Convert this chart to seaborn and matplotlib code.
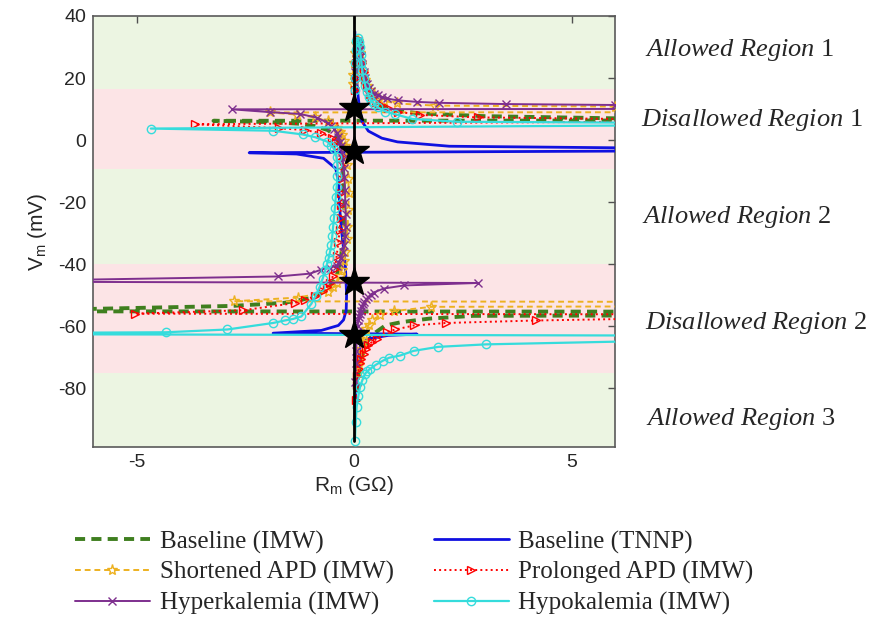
import numpy as np
import matplotlib
matplotlib.use('Agg')
import matplotlib.pyplot as plt
import seaborn as sns

sns.set_style('white')
plt.rcParams['font.family'] = ['Liberation Sans', 'DejaVu Sans']
plt.rcParams['mathtext.fontset'] = 'custom'
plt.rcParams['mathtext.rm'] = 'Liberation Sans'
plt.rcParams['mathtext.it'] = 'Liberation Serif:italic'
plt.rcParams['axes.unicode_minus'] = False

# background bands (mV)
band_edges = [-99, -75, -40, -9.5, 16.6, 40]
band_allowed = [True, False, True, False, True]

# curves as (R_m in GOhm, V_m in mV), in drawing order
base_imw_pts = [
    (0.02, 16), (0.04, 25), (0.07, 31), (0.11, 31), (0.15, 26), (0.20, 21), (0.28, 17),
    (0.40, 13.5), (0.60, 11), (0.90, 9.6), (1.5, 8.6), (3.0, 7.7), (6.0, 7.0), (40.0, 6.6),
    (-3.23, 6.2), (-2.0, 5.8), (-1.3, 5.3), (-0.9, 4.5), (-0.6, 3.2), (-0.4, 1.0), (-0.3, -3),
    (-0.25, -10), (-0.22, -20), (-0.24, -30), (-0.3, -38), (-0.4, -44), (-0.6, -48),
    (-1.0, -51), (-1.6, -52.5), (-2.8, -53.5), (-6.5, -54.6), (-40.0, -55.0), (40.0, -55.6),
    (2.74, -56.7), (1.73, -57.6), (1.1, -58.7), (0.72, -59.8), (0.5, -62), (0.3, -65),
    (0.18, -70), (0.1, -76), (0.06, -82)]

base_tnnp_pts = [
    (0.02, 35), (0.03, 28), (0.05, 22), (0.08, 16), (0.12, 11), (0.18, 6.1), (0.33, 2.9),
    (0.64, 0.6), (1.0, -0.6), (2.19, -2.0), (6.0, -2.5), (20.0, -2.7),
    (-2.41, -4.1), (-1.32, -4.5), (-0.70, -5.9), (-0.42, -9.2), (-0.35, -14), (-0.33, -22),
    (-0.28, -30), (-0.2, -40), (-0.17, -50), (-0.18, -55), (-0.24, -58), (-0.36, -59.8),
    (-0.75, -61.4), (-1.86, -62.3), (1.45, -62.6), (0.79, -63.0), (0.33, -64.1),
    (0.22, -65.2), (0.14, -66.8), (0.08, -72), (0.04, -80), (0.02, -90)]

short_pts = [
    (-0.03, 18), (-0.02, 21), (0.0, 25), (0.02, 28), (0.04, 31), (0.06, 32), (0.09, 32),
    (0.11, 30), (0.14, 28), (0.17, 25), (0.20, 22), (0.25, 19.5), (0.30, 17.5), (0.37, 16),
    (0.45, 14.5), (0.55, 13.5), (0.70, 12.6), (0.98, 11.8), (1.87, 11.1), (6.0, 10.8),
    (40.0, 9.2),
    (-1.94, 8.9), (-1.3, 8.2), (-0.9, 7.3), (-0.6, 6.0), (-0.5, 5.0), (-0.4, 4.0),
    (-0.33, 2.7), (-0.28, 1.5), (-0.24, -0.2), (-0.2, -2), (-0.17, -5), (-0.15, -8),
    (-0.13, -12.5), (-0.12, -17), (-0.13, -22.5), (-0.15, -28), (-0.17, -32), (-0.2, -36),
    (-0.24, -39), (-0.28, -42), (-0.33, -44), (-0.4, -46), (-0.48, -47.5), (-0.59, -49),
    (-1.29, -50.8), (-2.76, -52.0), (40.0, -52.8),
    (1.77, -53.8), (0.91, -55.2), (0.6, -56.5), (0.41, -58.2), (0.34, -59.5), (0.28, -61),
    (0.24, -63), (0.20, -65), (0.17, -67.5), (0.14, -70), (0.12, -72.5), (0.10, -75)]

prol_pts = [
    (0.03, 16), (0.04, 20), (0.05, 25), (0.065, 29), (0.08, 32), (0.10, 32.5), (0.12, 32),
    (0.14, 30), (0.16, 28), (0.19, 25), (0.22, 22), (0.26, 19.5), (0.30, 17), (0.36, 15),
    (0.42, 13.5), (0.50, 12.4), (0.58, 11.5), (0.78, 10.2), (1.02, 9.1), (1.52, 8.1),
    (2.84, 7.3), (10.0, 6.2),
    (-3.65, 5.1), (-1.72, 3.8), (-1.12, 3.2), (-0.75, 2.2), (-0.50, 0.8), (-0.42, -0.6),
    (-0.36, -2), (-0.33, -5), (-0.30, -8), (-0.29, -12.5), (-0.29, -17), (-0.30, -21),
    (-0.31, -25), (-0.33, -29), (-0.36, -33), (-0.40, -37.5), (-0.44, -41.7), (-0.49, -44),
    (-0.55, -46), (-0.63, -47.5), (-0.72, -48.8), (-0.90, -50.4), (-1.13, -51.5),
    (-1.36, -52.6), (-2.56, -54.9), (-5.03, -56.0), (12.0, -56.3),
    (4.19, -58.2), (2.11, -59.0), (1.38, -59.8), (0.95, -61.1), (0.76, -61.9), (0.53, -64.1),
    (0.42, -65), (0.33, -66.2), (0.27, -67.5), (0.22, -69), (0.17, -70.5), (0.14, -72),
    (0.11, -74), (0.08, -76), (0.06, -79), (0.04, -84)]

hyper_pts = [
    (0.02, 18), (0.03, 22), (0.04, 26), (0.06, 29.5), (0.08, 32), (0.10, 31.5), (0.12, 31),
    (0.14, 29), (0.16, 27), (0.19, 24.5), (0.22, 22), (0.26, 20), (0.30, 18), (0.35, 16.8),
    (0.40, 15.8), (0.47, 15), (0.55, 14.4), (0.65, 13.8), (0.75, 13.4), (1.00, 12.8),
    (1.45, 12.3), (1.95, 12.0), (3.5, 11.6), (6.0, 11.3), (40.0, 10.5),
    (-2.80, 9.9), (-1.94, 9.0), (-1.24, 8.4), (-0.85, 7.2), (-0.60, 5.5), (-0.52, 4.5),
    (-0.45, 3.5), (-0.40, 2.2), (-0.36, 1.0), (-0.32, -0.5), (-0.30, -2), (-0.28, -4),
    (-0.26, -6), (-0.24, -9), (-0.22, -12), (-0.21, -16), (-0.20, -20), (-0.19, -24),
    (-0.19, -28), (-0.20, -31), (-0.22, -34), (-0.25, -36), (-0.30, -38), (-0.35, -39.5),
    (-0.40, -40.5), (-0.55, -41.2), (-0.75, -41.8), (-1.02, -43.1), (-1.75, -44.0),
    (-6.5, -45.1), (-40.0, -44.5),
    (2.85, -46.1), (1.15, -46.9), (0.68, -47.9), (0.45, -49.2), (0.38, -49.9), (0.33, -50.6),
    (0.28, -51.4), (0.24, -52.2), (0.21, -53), (0.18, -53.8), (0.15, -55), (0.13, -56),
    (0.115, -57), (0.10, -58), (0.085, -60), (0.07, -62), (0.06, -65), (0.05, -68),
    (0.04, -72), (0.03, -78)]

hypo_pts = [
    (0.02, 16), (0.025, 20), (0.03, 25), (0.04, 29), (0.05, 32), (0.09, 33), (0.11, 31.5),
    (0.13, 30), (0.15, 27.5), (0.17, 25), (0.19, 22.5), (0.22, 20), (0.26, 17.5), (0.30, 15.5),
    (0.35, 14), (0.40, 12.5), (0.47, 11.5), (0.55, 10.5), (0.72, 9.2), (0.95, 8.3),
    (1.34, 6.8), (2.37, 5.9), (12.0, 5.2),
    (-4.67, 3.7), (-1.86, 3.0), (-1.18, 1.8), (-0.89, 0.9), (-0.62, -0.5), (-0.52, -1.8),
    (-0.45, -3), (-0.40, -5.5), (-0.38, -8), (-0.38, -11.5), (-0.40, -15), (-0.42, -18.5),
    (-0.44, -22), (-0.46, -25), (-0.48, -28), (-0.50, -31), (-0.52, -34), (-0.55, -36),
    (-0.58, -38), (-0.62, -40), (-0.66, -42), (-0.72, -44.7), (-0.79, -47.4), (-0.88, -50.2),
    (-0.98, -52.8), (-1.21, -56.9), (-1.40, -57.7), (-1.59, -58.2), (-1.86, -59.0),
    (-2.91, -61.1), (-4.32, -62.0), (-12.0, -62.5), (12.0, -63.2),
    (6.12, -65.0), (3.03, -65.9), (1.94, -66.7), (1.37, -68.0), (1.06, -69.5), (0.81, -70.2),
    (0.66, -71.2), (0.50, -72.5), (0.37, -73.8), (0.30, -74.6), (0.25, -75.5), (0.19, -77.5),
    (0.14, -79.6), (0.10, -82.5), (0.06, -86), (0.04, -91), (0.02, -97)]

zero_R = [0, 0]
zero_V = [-97, 40]
star_R = [0, 0, 0, 0]
star_V = [10.3, -3.5, -45.8, -62.8]

region_labels = ['Allowed Region', 'Disallowed Region', 'Allowed Region', 'Disallowed Region', 'Allowed Region']
region_nums = ['1', '1', '2', '2', '3']
region_px = [(645, 50), (641, 120), (642, 217), (645, 323), (646, 419)]

W, H = 872, 621
fig = plt.figure(figsize=(W / 100, H / 100), dpi=100)
ax = fig.add_axes([93 / W, 1 - 447 / H, (615 - 93) / W, (447 - 16) / H])

for lo, hi, ok in zip(band_edges[:-1], band_edges[1:], band_allowed):
    ax.axhspan(lo, hi, color='#ECF5E2' if ok else '#FCE4E6', lw=0, zorder=0)

series = [
    ('Baseline (IMW)', base_imw_pts,
     dict(color='#3F7F1F', lw=2.8, linestyle=(0, (2.6, 1.6)))),
    ('Baseline (TNNP)', base_tnnp_pts,
     dict(color='#1010E0', lw=2.0, linestyle='-')),
    ('Shortened APD (IMW)', short_pts,
     dict(color='#EDB120', lw=1.4, linestyle=(0, (3, 2)), marker='*', markersize=8,
          markerfacecolor='none', markeredgecolor='#EDB120', markeredgewidth=1.0)),
    ('Prolonged APD (IMW)', prol_pts,
     dict(color='#FF0000', lw=1.4, linestyle=':', marker='>', markersize=6,
          markerfacecolor='none', markeredgecolor='#FF0000', markeredgewidth=1.0)),
    ('Hyperkalemia (IMW)', hyper_pts,
     dict(color='#7E2F8E', lw=1.4, linestyle='-', marker='x', markersize=6,
          markeredgecolor='#7E2F8E', markeredgewidth=1.0)),
    ('Hypokalemia (IMW)', hypo_pts,
     dict(color='#35DCDC', lw=1.6, linestyle='-', marker='o', markersize=6,
          markerfacecolor='none', markeredgecolor='#35DCDC', markeredgewidth=1.0)),
]

handles = {}
for name, pts, kw in series:
    arr = np.array(pts, dtype=float)
    sns.lineplot(x=arr[:, 0], y=arr[:, 1], sort=False, estimator=None, ax=ax,
                 label=name, zorder=3, **kw)
    handles[name] = ax.get_lines()[-1]

ax.plot(zero_R, zero_V, color='black', lw=2.0, zorder=4)
ax.plot(star_R, star_V, linestyle='none', marker='*', markersize=22, color='black', zorder=5)

if ax.get_legend() is not None:
    ax.get_legend().remove()

ax.set_xlim(-6, 6)
ax.set_ylim(-99, 40)
ax.set_xticks([-5, 0, 5])
ax.set_yticks([-80, -60, -40, -20, 0, 20, 40])
ax.tick_params(direction='in', top=True, right=True, length=5, width=1, color='#505050',
               labelsize=14, labelcolor='#262626', pad=5)
for sp in ax.spines.values():
    sp.set_color('#5a5a5a')
    sp.set_linewidth(1.2)
ax.set_xlabel(r'R$_{\mathrm{m}}$ (G$\Omega$)', fontsize=15, color='#262626', labelpad=2)
ax.set_ylabel(r'V$_{\mathrm{m}}$ (mV)', fontsize=15, color='#262626', labelpad=6)

for lab, num, (px, py) in zip(region_labels, region_nums, region_px):
    fig.text(px / W, 1 - py / H, r'$\mathit{' + lab.replace(' ', r'\ ') + '}$ ' + num,
             fontsize=19, family='Liberation Serif', va='center', ha='left')

order = ['Baseline (IMW)', 'Shortened APD (IMW)', 'Hyperkalemia (IMW)',
         'Baseline (TNNP)', 'Prolonged APD (IMW)', 'Hypokalemia (IMW)']
fig.legend([handles[k] for k in order], order, ncol=2, loc='upper left',
           bbox_to_anchor=(52 / W, 1 - 508 / H), frameon=False,
           prop={'family': 'Liberation Serif', 'size': 18}, handlelength=3.0,
           handletextpad=0.4, columnspacing=1.6, labelspacing=0.3, numpoints=1)

fig.savefig('out.png', dpi=100)
